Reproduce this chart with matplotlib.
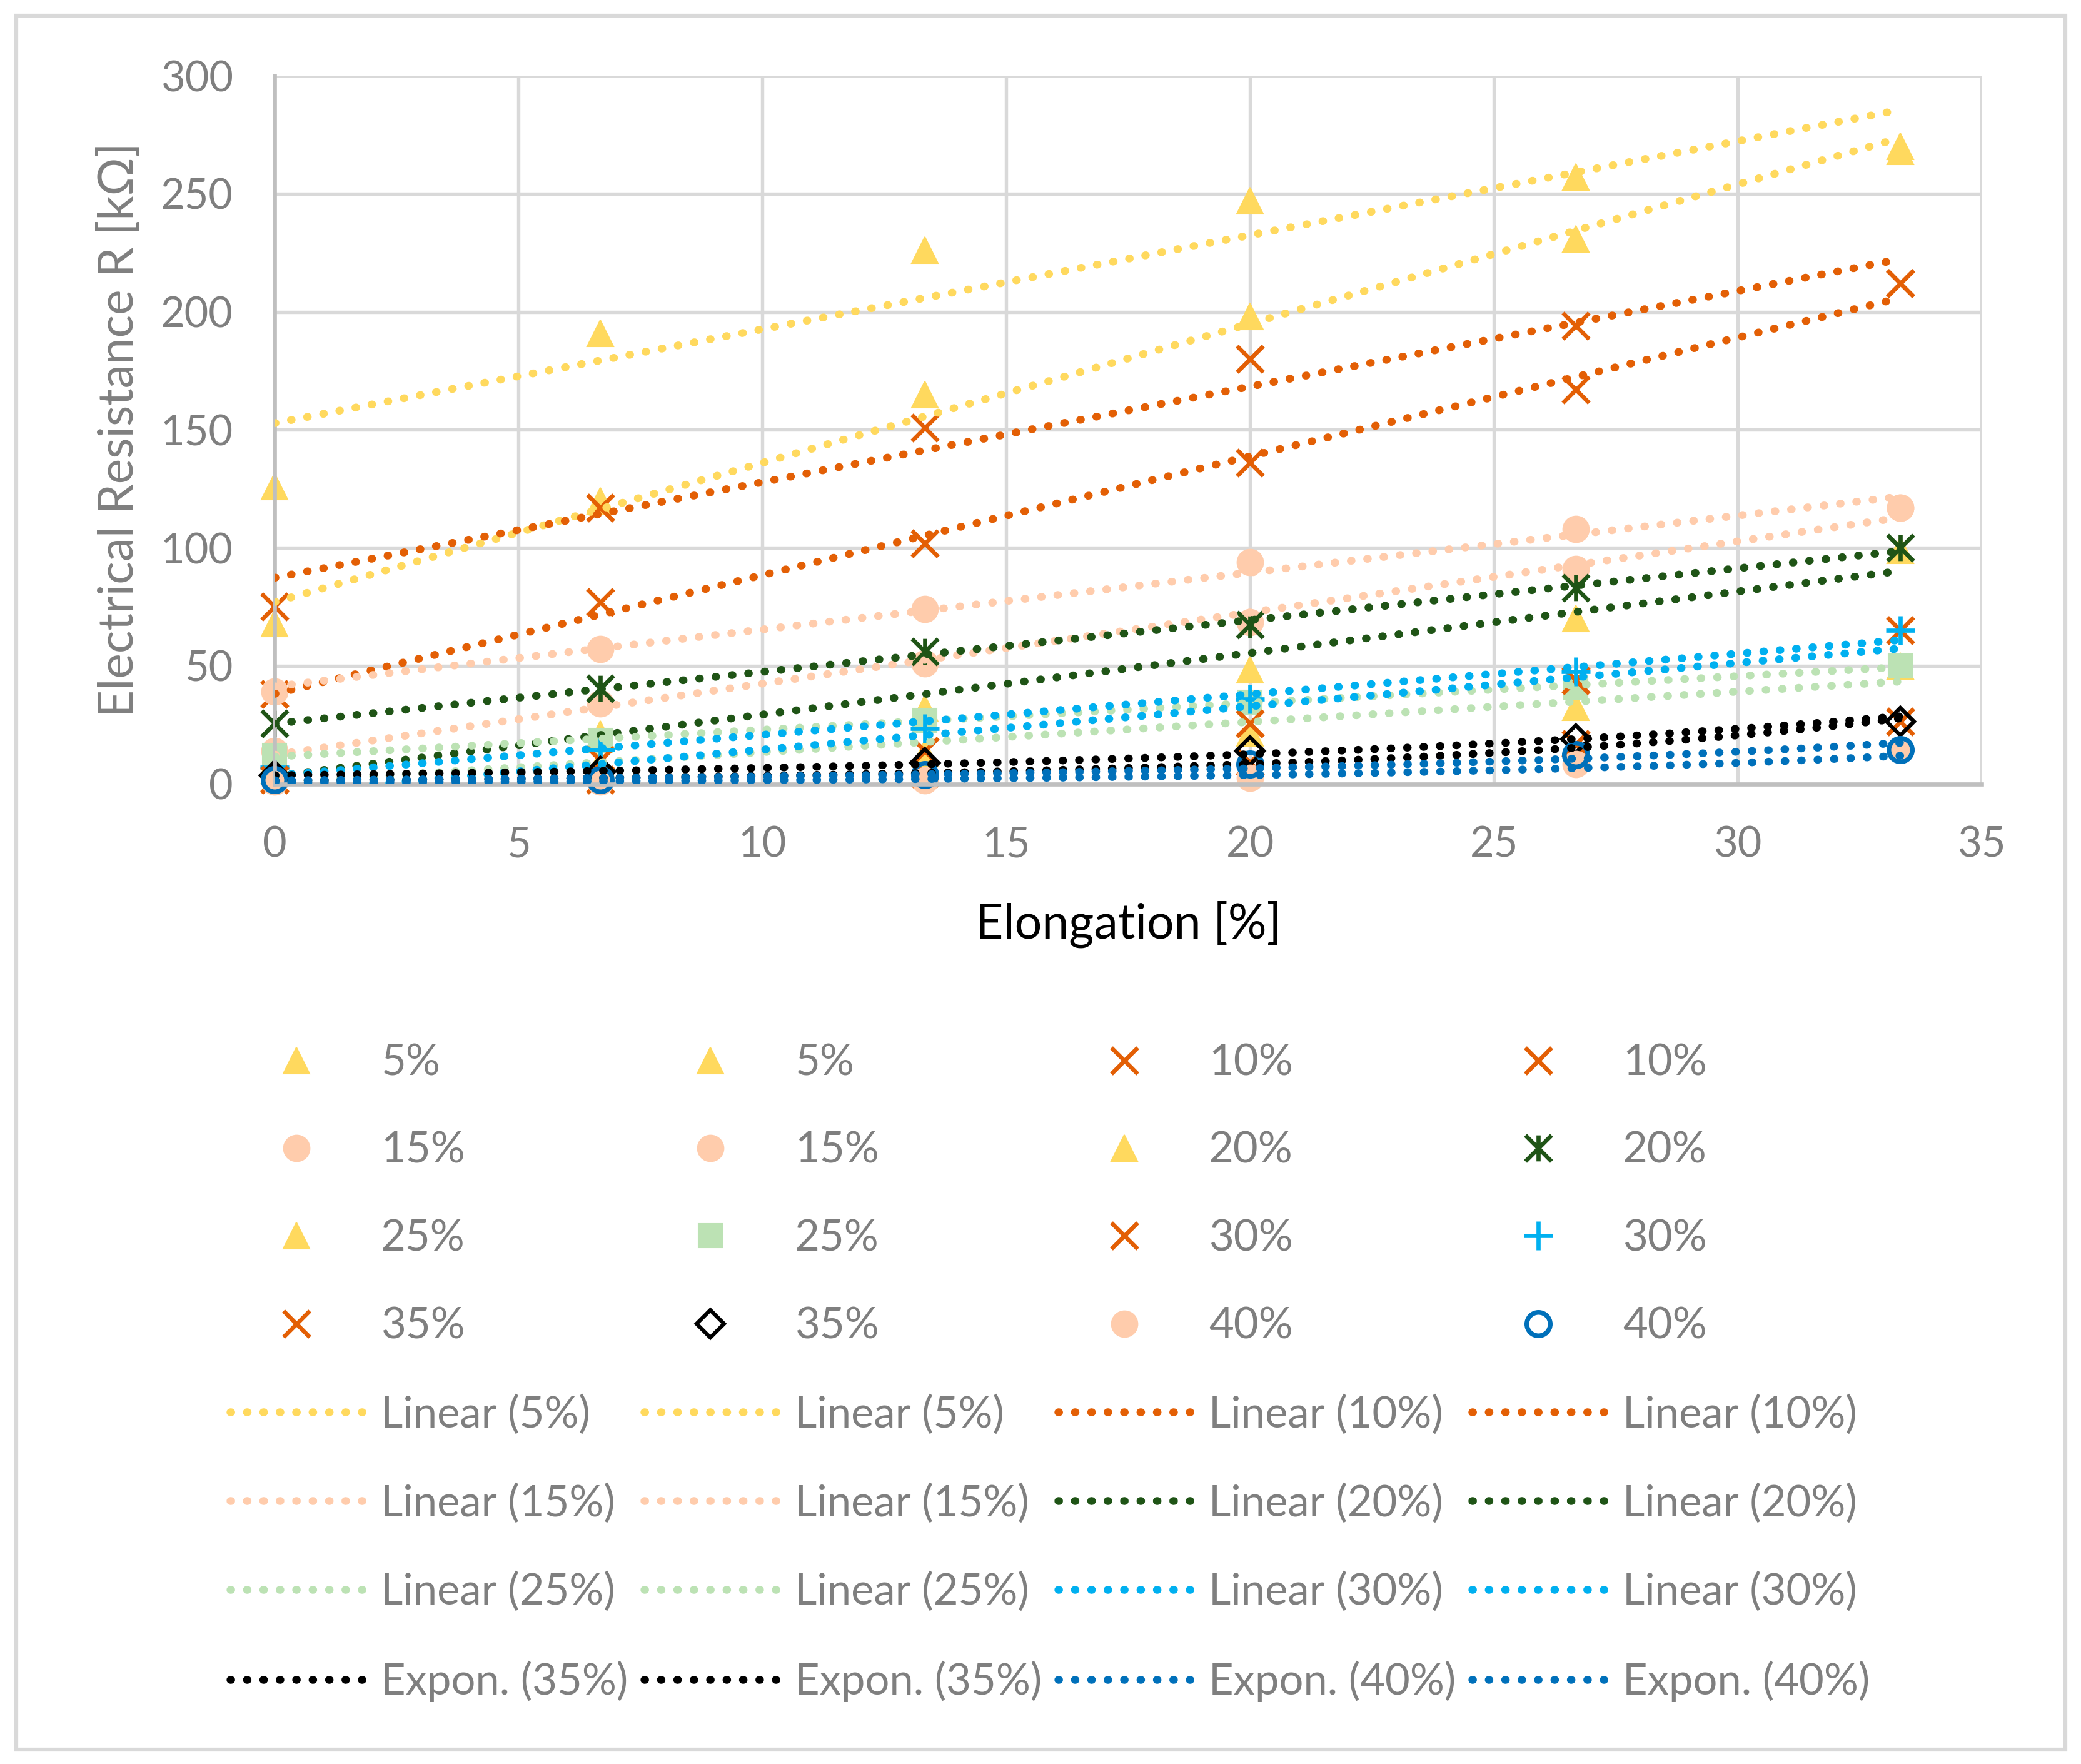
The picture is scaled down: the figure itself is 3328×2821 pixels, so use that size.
import numpy as np
import matplotlib.pyplot as plt
from matplotlib.path import Path
from matplotlib.patches import Rectangle

plt.rcParams['font.family'] = ['Lato', 'DejaVu Sans']

# elongation steps [%]
elong = [0, 6.67, 13.33, 20, 26.67, 33.33]

# resistance readings [kOhm], two samples per concentration
r5_a = [126, 191, 226, 247, 257, 268]
r5_b = [68, 120, 165, 198, 231, 270]
r10_a = [75, 117, 151, 180, 194, 212]
r10_b = [38, 77, 102, 136, 167, 212]
r15_a = [39, 57, 74, 94, 108, 117]
r15_b = [14, 34, 51, 68.5, 91, 117]
r20_a = [10, 21, 32, 48.5, 70, 99]
r20_b = [25.5, 40.5, 56, 67.5, 83, 100]
r25_a = [6, 9, 13, 21.5, 32.5, 50]
r25_b = [12, 18.5, 27, 34.5, 41, 50]
r30_a = [2, 10, 14, 25.5, 44, 65]
r30_b = [7, 14.5, 23.5, 36, 47.5, 65]
r35_a = [1.8, 1.8, 4.4, 9.3, 16.8, 26.5]
r35_b = [3.5, 5.3, 8.8, 14, 19, 26.5]
r40_a = [1.0, 1.0, 1.5, 2.6, 8.4, 14.5]
r40_b = [1.8, 1.8, 4, 8.4, 12.3, 14.5]

labels = ['5%', '5%', '10%', '10%', '15%', '15%', '20%', '20%',
          '25%', '25%', '30%', '30%', '35%', '35%', '40%', '40%']
fit_kind = ['Linear'] * 12 + ['Expon.'] * 4

gold = '#FFD95E'
orange = '#E35F05'
peach = '#FFCCAC'
dgreen = '#1F5416'
lgreen = '#BCE2B4'
cyan = '#00B0F0'
blue = '#0070BA'
grey = '#7F7F7F'

# asterisk like the Excel "star" marker: an X with a vertical bar
star = Path([(0, -1), (0, 1), (-1, -1), (1, 1), (-1, 1), (1, -1)],
            [Path.MOVETO, Path.LINETO, Path.MOVETO, Path.LINETO, Path.MOVETO, Path.LINETO])

# marker, face colour, edge colour, size, edge width
styles = [
    ('^', gold, gold, 10, 0.5), ('^', gold, gold, 10, 0.5),
    ('x', orange, orange, 10, 1.6), ('x', orange, orange, 10, 1.6),
    ('o', peach, peach, 10, 0.5), ('o', peach, peach, 10, 0.5),
    ('^', gold, gold, 10, 0.5), (star, 'none', dgreen, 10, 1.6),
    ('^', gold, gold, 10, 0.5), ('s', lgreen, lgreen, 9, 0.5),
    ('x', orange, orange, 10, 1.6), ('+', cyan, cyan, 11, 1.6),
    ('x', orange, orange, 10, 1.6), ('D', 'none', 'black', 7.5, 1.5),
    ('o', peach, peach, 10, 0.5), ('o', 'none', blue, 9, 1.8),
]
trend_colors = [gold, gold, orange, orange, peach, peach, dgreen, dgreen,
                lgreen, lgreen, cyan, cyan, 'black', 'black', blue, blue]

data = [r5_a, r5_b, r10_a, r10_b, r15_a, r15_b, r20_a, r20_b,
        r25_a, r25_b, r30_a, r30_b, r35_a, r35_b, r40_a, r40_b]

fig = plt.figure(figsize=(3329 / 300, 2821 / 300), dpi=300)
ax = fig.add_axes([0.132, 0.5556, 0.820, 0.4015])

x = np.array(elong)
point_handles = []
trend_handles = []
for i, vals in enumerate(data):
    y = np.array(vals)
    mk, fc, ec, ms, mew = styles[i]
    h, = ax.plot(x, y, linestyle='none', marker=mk, markersize=ms, markerfacecolor=fc,
                 markeredgecolor=ec, markeredgewidth=mew, clip_on=False, zorder=2 + i * 0.01,
                 label=labels[i])
    point_handles.append(h)

for i, vals in enumerate(data):
    y = np.array(vals)
    xs = np.linspace(x[0], x[-1], 200)
    if fit_kind[i] == 'Linear':
        k, b = np.polyfit(x, y, 1)
        ys = k * xs + b
    else:
        k, b = np.polyfit(x, np.log(y), 1)
        ys = np.exp(b) * np.exp(k * xs)
    t, = ax.plot(xs, ys, color=trend_colors[i], lw=3, linestyle=(0, (0.1, 2.0)),
                 dash_capstyle='round', zorder=3, label=f'{fit_kind[i]} ({labels[i]})')
    trend_handles.append(t)

ax.set_xlim(0, 35)
ax.set_ylim(0, 300)
ax.set_xticks(np.arange(0, 36, 5))
ax.set_yticks(np.arange(0, 301, 50))
ax.grid(True, color='#D9D9D9', lw=1.3)
ax.set_axisbelow(True)
for side in ['top', 'right']:
    ax.spines[side].set_visible(False)
for side in ['left', 'bottom']:
    ax.spines[side].set_color('#BFBFBF')
    ax.spines[side].set_linewidth(1.6)
ax.tick_params(length=0, pad=16, labelsize=16, labelcolor=grey)

ax.set_xlabel('Elongation [%]', fontsize=18.5, color='black', labelpad=14)
ax.set_ylabel('Electrical Resistance R [kΩ]', fontsize=18.4, color=grey, labelpad=7)

# legend: Excel fills rows first, matplotlib fills columns first
entries = point_handles + trend_handles
ncol, nrow = 4, 8
ordered = [entries[r * ncol + c] for c in range(ncol) for r in range(nrow)]
fig.legend(handles=ordered, labels=[h.get_label() for h in ordered], ncol=ncol,
           loc='upper left', bbox_to_anchor=(0.1105, 0.4085), frameon=False,
           fontsize=16.5, labelcolor=grey, handlelength=3.08, handletextpad=0.43,
           columnspacing=0.37, labelspacing=1.125, borderpad=0, borderaxespad=0,
           numpoints=1)

# chart area border
fig.patches.append(Rectangle((0.0077, 0.0083), 0.9846, 0.9827, transform=fig.transFigure,
                             fill=False, edgecolor='#D9D9D9', lw=1.5))

fig.savefig('out.png', dpi=300, facecolor='white')
